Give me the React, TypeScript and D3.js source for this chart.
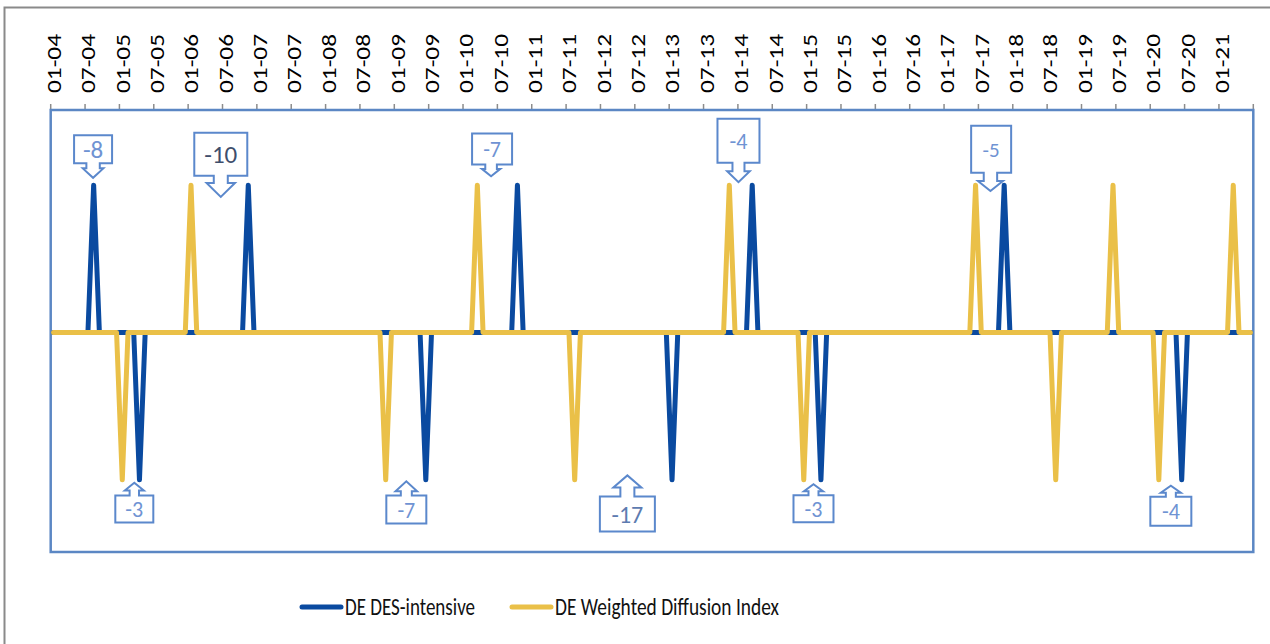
import React from "react";
import * as d3 from "d3";

// ---- Data ----
const startMonth = "2004-01";
const endMonth = "2021-06";

const tickLabels = [
  "01-04","07-04","01-05","07-05","01-06","07-06","01-07","07-07","01-08","07-08",
  "01-09","07-09","01-10","07-10","01-11","07-11","01-12","07-12","01-13","07-13",
  "01-14","07-14","01-15","07-15","01-16","07-16","01-17","07-17","01-18","07-18",
  "01-19","07-19","01-20","07-20","01-21",
];

// non-zero months of each series (all other months are 0)
const desIntensiveEvents = [
  { month: "2004-08", value: 1 },
  { month: "2005-04", value: -1 },
  { month: "2006-11", value: 1 },
  { month: "2009-06", value: -1 },
  { month: "2010-10", value: 1 },
  { month: "2013-01", value: -1 },
  { month: "2014-03", value: 1 },
  { month: "2015-03", value: -1 },
  { month: "2017-11", value: 1 },
  { month: "2020-06", value: -1 },
];

const weightedDiffusionEvents = [
  { month: "2005-01", value: -1 },
  { month: "2006-01", value: 1 },
  { month: "2008-11", value: -1 },
  { month: "2010-03", value: 1 },
  { month: "2011-08", value: -1 },
  { month: "2013-11", value: 1 },
  { month: "2014-12", value: -1 },
  { month: "2017-06", value: 1 },
  { month: "2018-08", value: -1 },
  { month: "2019-06", value: 1 },
  { month: "2020-02", value: -1 },
  { month: "2021-03", value: 1 },
];

const seriesNames = ["DE DES-intensive", "DE Weighted Diffusion Index"];

// callout annotations: label, position (fractional month index), value at the arrow tip
const calloutLabels = ["-8", "-10", "-7", "-4", "-5", "-3", "-7", "-17", "-3", "-4"];
const calloutPositions = [6.9, 29.2, 76.4, 119.6, 163.6, 14.1, 61.6, 100.2, 132.7, 195.1];
const calloutValues = [1.05, 0.92, 1.06, 1.02, 0.96, -1.02, -1.01, -0.97, -1.03, -1.04];

// ---- Styles / layout ----
const W = 1270;
const H = 644;
const plot = { left: 50.7, right: 1253.3, top: 110, bottom: 552 };
const BLUE = "#0a4aa0";
const YELLOW = "#eac048";
const FRAME = "#5b87c4";
const CALLOUT = "#5b88cc";
const FONT = "Calibri, Carlito, Lato, 'Open Sans', sans-serif";

const calloutShapes = [
  { w: 38, h: 28, gap: 14.4, head: 9.4, wing: 10.3, stem: 6.7, dx: 0, fs: 25, color: "#6f93d3" },
  { w: 53, h: 43, gap: 21.3, head: 14, wing: 14.2, stem: 7, dx: 0, fs: 25, color: "#3e4e6c" },
  { w: 40, h: 31, gap: 11.7, head: 7.4, wing: 9.2, stem: 5.8, dx: 1, fs: 22, color: "#6f93d3" },
  { w: 42, h: 44, gap: 19.4, head: 11, wing: 11.3, stem: 6, dx: 0, fs: 22, color: "#6f93d3" },
  { w: 40, h: 47, gap: 18.4, head: 10, wing: 12.5, stem: 6.7, dx: 0.7, fs: 21, color: "#6f93d3" },
  { w: 38, h: 27, gap: 12.7, head: 7.7, wing: 9.5, stem: 4.7, dx: 0, fs: 22, color: "#6f93d3" },
  { w: 40, h: 28, gap: 14.3, head: 10, wing: 10.8, stem: 5.5, dx: 0, fs: 22, color: "#6f93d3" },
  { w: 55, h: 35, gap: 21, head: 12, wing: 14, stem: 7, dx: 0, fs: 24, color: "#5d7bb0" },
  { w: 40, h: 27, gap: 11, head: 7, wing: 9.5, stem: 5, dx: 0, fs: 22, color: "#6f93d3" },
  { w: 41, h: 29, gap: 11, head: 7, wing: 10, stem: 5, dx: 0, fs: 22, color: "#6f93d3" },
];

const parseMonth = d3.timeParse("%Y-%m");
const fmtKey = d3.timeFormat("%Y-%m");

export default function App() {
  const start = parseMonth(startMonth)!;
  const end = parseMonth(endMonth)!;
  const months = d3.timeMonth.range(start, d3.timeMonth.offset(end, 1)).map(fmtKey);
  const n = months.length;

  const x = d3.scaleLinear().domain([0, n]).range([plot.left, plot.right]);
  const y = d3.scaleLinear().domain([-1.49, 1.51]).range([plot.bottom, plot.top]);

  const build = (events: { month: string; value: number }[]) => {
    const m = new Map(events.map((e) => [e.month, e.value]));
    return months.map((k, i) => ({ i, v: m.get(k) ?? 0 }));
  };
  const desData = build(desIntensiveEvents);
  const wdiData = build(weightedDiffusionEvents);

  const line = d3
    .line<{ i: number; v: number }>()
    .x((d) => x(d.i + 0.5))
    .y((d) => y(d.v));

  const tickIdx = d3.range(0, n + 1, 6);

  const callouts = calloutLabels.map((label, k) => {
    const s = calloutShapes[k];
    const tx = x(calloutPositions[k] + 0.5);
    const ty = y(calloutValues[k]);
    const down = calloutValues[k] > 0; // arrow points down to data
    const cx = tx + s.dx;
    const sign = down ? -1 : 1;
    const boxNear = ty + sign * s.gap;
    const boxFar = boxNear + sign * s.h;
    const headBase = ty + sign * s.head;
    const x0 = cx - s.w / 2;
    const x1 = cx + s.w / 2;
    const path = [
      `M${x0},${boxFar}`,
      `H${x1}`,
      `V${boxNear}`,
      `H${tx + s.stem}`,
      `V${headBase}`,
      `H${tx + s.wing}`,
      `L${tx},${ty}`,
      `L${tx - s.wing},${headBase}`,
      `H${tx - s.stem}`,
      `V${boxNear}`,
      `H${x0}`,
      "Z",
    ].join(" ");
    const textY = (boxNear + boxFar) / 2;
    return { label, path, cx, textY, s };
  });

  return (
    <svg
      width={W}
      height={H}
      style={{ position: "absolute", left: 0, top: 0, background: "#fff" }}
    >
      <rect x={0} y={0} width={W} height={H} fill="#fff" />
      {/* outer chart frame */}
      <rect x={4.5} y={7.5} width={W + 20} height={H + 20} fill="none" stroke="#8a8a8a" strokeWidth={2} />

      {/* tick marks */}
      {tickIdx.map((t) => (
        <line key={"t" + t} x1={x(t)} x2={x(t)} y1={plot.top - 6} y2={plot.top} stroke="#8c8c8c" strokeWidth={1.5} />
      ))}
      {/* tick labels */}
      {tickLabels.map((lab, k) => {
        const cx = x(k * 6 + 0.5);
        return (
          <text
            key={"l" + k}
            transform={`translate(${cx},93) rotate(-90)`}
            dy="0.36em"
            fontFamily={FONT}
            fontSize={20.5}
            textLength={59}
            lengthAdjust="spacingAndGlyphs"
            fill="#000"
          >
            {lab}
          </text>
        );
      })}

      {/* plot frame */}
      <rect
        x={plot.left}
        y={plot.top}
        width={plot.right - plot.left}
        height={plot.bottom - plot.top}
        fill="none"
        stroke={FRAME}
        strokeWidth={2.5}
      />

      {/* series */}
      <path d={line(desData) ?? ""} fill="none" stroke={BLUE} strokeWidth={5} strokeLinejoin="round" strokeLinecap="round" />
      <path d={line(wdiData) ?? ""} fill="none" stroke={YELLOW} strokeWidth={5} strokeLinejoin="round" strokeLinecap="round" />

      {/* callouts */}
      {callouts.map((c, k) => (
        <g key={"c" + k}>
          <path d={c.path} fill="#fff" stroke={CALLOUT} strokeWidth={2} strokeLinejoin="miter" />
          <text
            x={c.cx}
            y={c.textY}
            dy="0.36em"
            textAnchor="middle"
            fontFamily={FONT}
            fontSize={c.s.fs}
            fill={c.s.color}
          >
            {c.label}
          </text>
        </g>
      ))}

      {/* legend */}
      <line x1={302} x2={341} y1={607} y2={607} stroke={BLUE} strokeWidth={5} strokeLinecap="round" />
      <text x={345} y={615} fontFamily={FONT} fontSize={25} textLength={130} lengthAdjust="spacingAndGlyphs" fill="#111">
        {seriesNames[0]}
      </text>
      <line x1={512} x2={551} y1={607} y2={607} stroke={YELLOW} strokeWidth={5} strokeLinecap="round" />
      <text x={555} y={615} fontFamily={FONT} fontSize={25} textLength={224} lengthAdjust="spacingAndGlyphs" fill="#111">
        {seriesNames[1]}
      </text>
    </svg>
  );
}
